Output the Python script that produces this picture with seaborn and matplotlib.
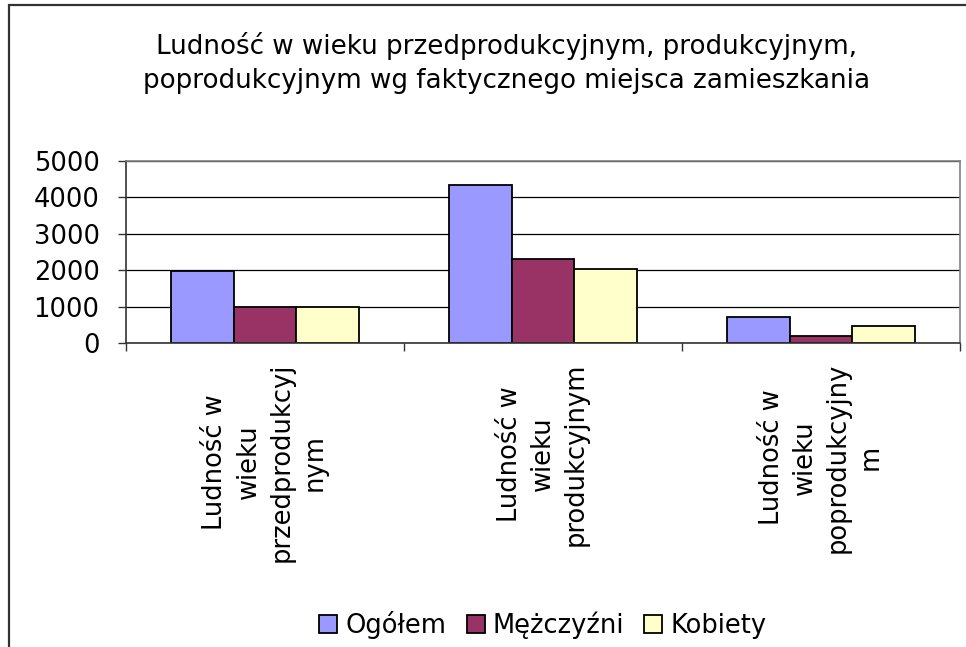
# Ludność wg wieku - odtworzenie wykresu słupkowego (styl Excel)

import pandas as pd
import matplotlib.pyplot as plt
import seaborn as sns
from matplotlib.patches import Rectangle

# Dane
categories = [
    "Ludność w\nwieku\nprzedprodukcyj\nnym",
    "Ludność w\nwieku\nprodukcyjnym",
    "Ludność w\nwieku\npoprodukcyjny\nm",
]
series = ["Ogółem", "Mężczyźni", "Kobiety"]
ogolem = [1990, 4330, 720]
mezczyzni = [1000, 2300, 200]
kobiety = [990, 2040, 480]
colors = ["#9999FF", "#993366", "#FFFFCC"]

# Tabela w formacie długim dla seaborn
data = pd.DataFrame({
    "kategoria": categories * 3,
    "seria": [s for s in series for _ in categories],
    "wartosc": ogolem + mezczyzni + kobiety,
})

sns.set_style("white")
plt.rcParams["font.family"] = ["DejaVu Sans"]
plt.rcParams["text.color"] = "black"
plt.rcParams["xtick.color"] = "black"
plt.rcParams["ytick.color"] = "black"

fig = plt.figure(figsize=(9.66, 6.47), dpi=100)
ax = fig.add_axes([0.1304, 0.4699, 0.8634, 0.2813])

sns.barplot(
    data=data,
    x="kategoria",
    y="wartosc",
    hue="seria",
    palette=colors,
    saturation=1,
    width=0.673,
    edgecolor="black",
    linewidth=1.3,
    ax=ax,
)

ax.set_xlim(-0.5, 2.5)
ax.set_ylim(0, 5000)
ax.set_yticks([0, 1000, 2000, 3000, 4000, 5000])
ax.set_xlabel("")
ax.set_ylabel("")

# Siatka pozioma
ax.grid(axis="y", color="black", linewidth=0.9)
ax.set_axisbelow(True)

# Obramowanie obszaru wykresu
for side in ["top", "right"]:
    ax.spines[side].set_color("#808080")
    ax.spines[side].set_linewidth(1.2)
for side in ["left", "bottom"]:
    ax.spines[side].set_color("#333333")
    ax.spines[side].set_linewidth(1.2)

ax.tick_params(axis="y", direction="out", length=6, width=1, color="#333333",
               labelsize=18.5, labelcolor="black", pad=13, left=True)
ax.set_xticks([0, 1, 2])
ax.set_xticklabels(categories, rotation=90, fontsize=18.5, color="black",
                   multialignment="center", linespacing=1.35)
ax.tick_params(axis="x", which="major", length=0, pad=14)
ax.set_xticks([-0.5, 0.5, 1.5, 2.5], minor=True)
ax.tick_params(axis="x", which="minor", direction="out", length=6, width=1,
               color="#333333", bottom=True)

# Legenda na dole
handles, labels = ax.get_legend_handles_labels()
ax.get_legend().remove()
fig.legend(handles, labels, loc="center", bbox_to_anchor=(0.562, 0.034),
           ncol=3, frameon=False, fontsize=18.5, handlelength=0.7,
           handleheight=0.7, handletextpad=0.3, columnspacing=0.8)

# Tytuł
fig.text(0.524, 0.903,
         "Ludność w wieku przedprodukcyjnym, produkcyjnym,\n"
         "poprodukcyjnym wg faktycznego miejsca zamieszkania",
         ha="center", va="center", fontsize=18.8, linespacing=1.4)

# Ramka całego wykresu (ucięta z prawej i u dołu)
fig.patches.append(Rectangle((9 / 966, -0.1), 1.1, 1.1 - 5 / 647,
                             transform=fig.transFigure, fill=False,
                             edgecolor="#333333", linewidth=1.6))

plt.savefig("out.png", dpi=100)
